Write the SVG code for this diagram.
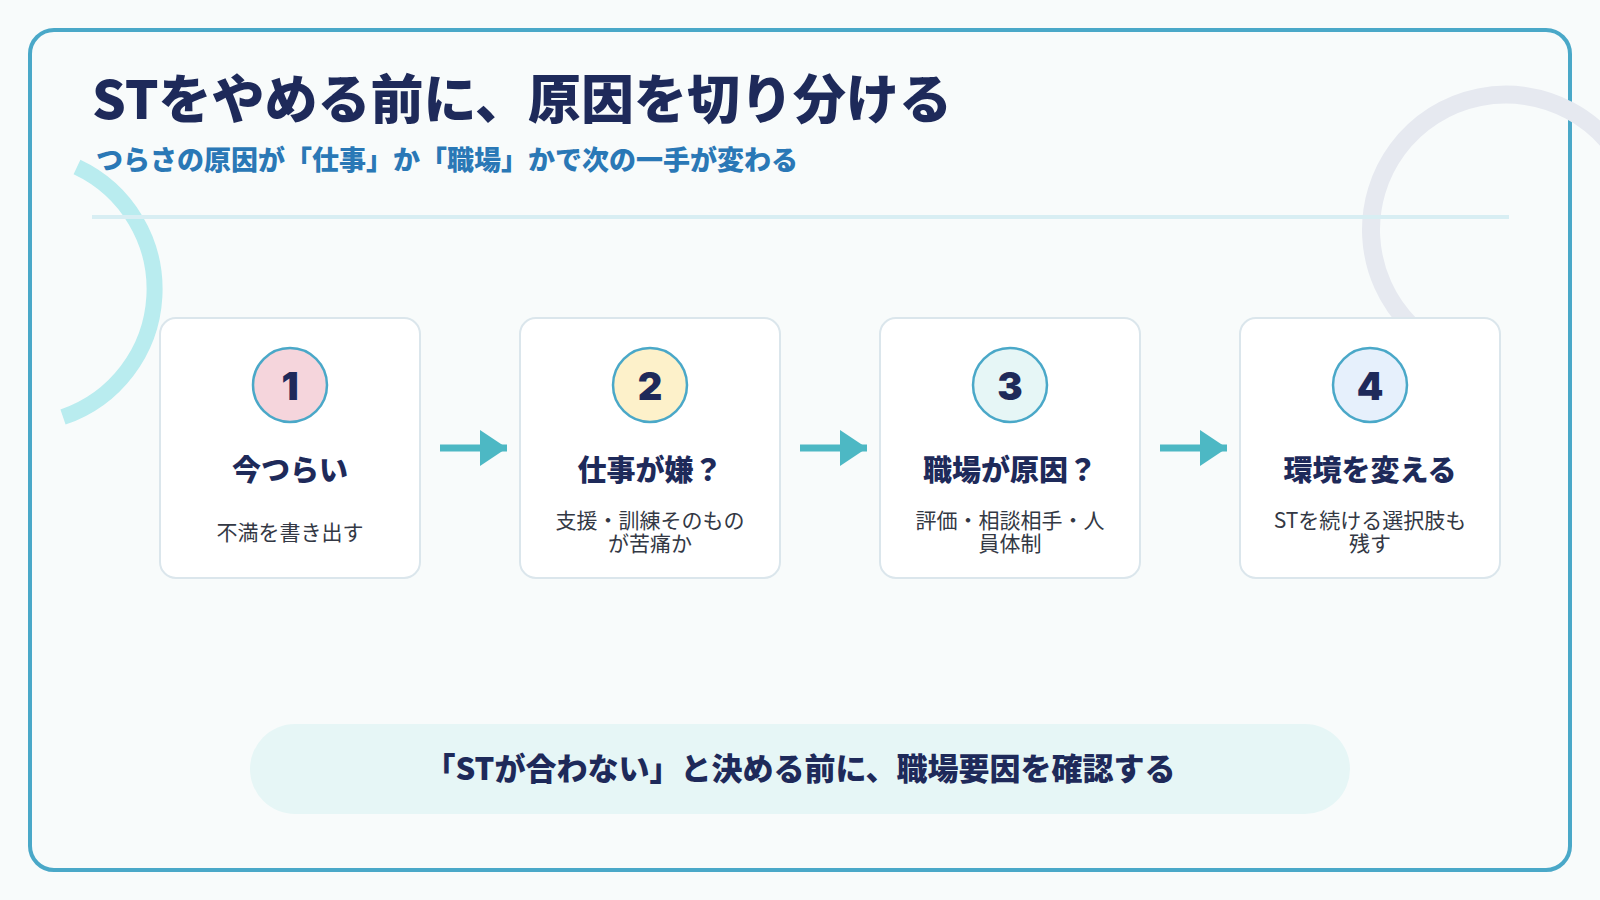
<svg xmlns="http://www.w3.org/2000/svg" width="1600" height="900" viewBox="0 0 1600 900">
<defs>
<style>
.jp{font-family:"Noto Sans CJK JP","Noto Sans",sans-serif;}
.title{font-size:53px;font-weight:900;fill:#1e2a5a;}
.sub{font-size:27px;font-weight:900;fill:#2a78b6;}
.card{fill:#ffffff;stroke:#dbe6ec;stroke-width:2;}
.num{stroke:#4aa8c8;stroke-width:2.5;}
.numt{font-family:Inter,"Noto Sans",sans-serif;font-size:38px;font-weight:900;fill:#1e2a5a;text-anchor:middle;}
.ct{font-size:29px;font-weight:900;fill:#1e2a5a;text-anchor:middle;}
.cd{font-size:21px;font-weight:400;fill:#333844;text-anchor:middle;}
.arrow{stroke:#4db8c4;stroke-width:7;fill:none;marker-end:url(#ah);}
</style>
<marker id="ah" viewBox="0 0 27 36" refX="27" refY="18" markerWidth="27" markerHeight="36" markerUnits="userSpaceOnUse" orient="auto">
<path d="M0 0 L27 18 L0 36 Z" fill="#4db8c4"/>
</marker>
</defs>
<rect x="0" y="0" width="1600" height="900" fill="#f8fbfb"/>
<path d="M77 167 A135 135 0 0 1 63 417" fill="none" stroke="#b9ecef" stroke-width="16"/>
<rect x="30" y="30" width="1540" height="840" rx="24" fill="none" stroke="#4aa8c8" stroke-width="4"/>
<path d="M1449 352 A135 135 0 1 1 1641 230" fill="none" stroke="#e6e9f0" stroke-width="18"/>
<text class="jp title" x="92" y="119">STをやめる前に、原因を切り分ける</text>
<text class="jp sub" x="96" y="170">つらさの原因が「仕事」か「職場」かで次の一手が変わる</text>
<line x1="92" y1="217" x2="1509" y2="217" stroke="#d8eef3" stroke-width="4"/>
<g id="connectors">
<line class="arrow" x1="440" y1="448" x2="507" y2="448"/>
<line class="arrow" x1="800" y1="448" x2="867" y2="448"/>
<line class="arrow" x1="1160" y1="448" x2="1227" y2="448"/>
</g>
<g id="node1">
<rect class="card" x="160" y="318" width="260" height="260" rx="16"/>
<circle class="num" cx="290" cy="385" r="37" fill="#f5d5dc"/>
<text class="numt" x="290" y="400">1</text>
<text class="jp ct" x="290" y="481">今つらい</text>
<text class="jp cd" x="290" y="540">不満を書き出す</text>
</g>
<g id="node2">
<rect class="card" x="520" y="318" width="260" height="260" rx="16"/>
<circle class="num" cx="650" cy="385" r="37" fill="#fdf1ca"/>
<text class="numt" x="650" y="400">2</text>
<text class="jp ct" x="650" y="481">仕事が嫌？</text>
<text class="jp cd" x="650" y="528">支援・訓練そのもの</text>
<text class="jp cd" x="650" y="551">が苦痛か</text>
</g>
<g id="node3">
<rect class="card" x="880" y="318" width="260" height="260" rx="16"/>
<circle class="num" cx="1010" cy="385" r="37" fill="#e6f6f6"/>
<text class="numt" x="1010" y="400">3</text>
<text class="jp ct" x="1010" y="481">職場が原因？</text>
<text class="jp cd" x="1010" y="528">評価・相談相手・人</text>
<text class="jp cd" x="1010" y="551">員体制</text>
</g>
<g id="node4">
<rect class="card" x="1240" y="318" width="260" height="260" rx="16"/>
<circle class="num" cx="1370" cy="385" r="37" fill="#e6f0fc"/>
<text class="numt" x="1370" y="400">4</text>
<text class="jp ct" x="1370" y="481">環境を変える</text>
<text class="jp cd" x="1370" y="528">STを続ける選択肢も</text>
<text class="jp cd" x="1370" y="551">残す</text>
</g>
<g id="banner">
<rect x="250" y="724" width="1100" height="90" rx="45" fill="#e6f6f6"/>
<text class="jp" x="800" y="780" font-size="31" font-weight="900" fill="#1e2a5a" text-anchor="middle">「STが合わない」と決める前に、職場要因を確認する</text>
</g>
</svg>
